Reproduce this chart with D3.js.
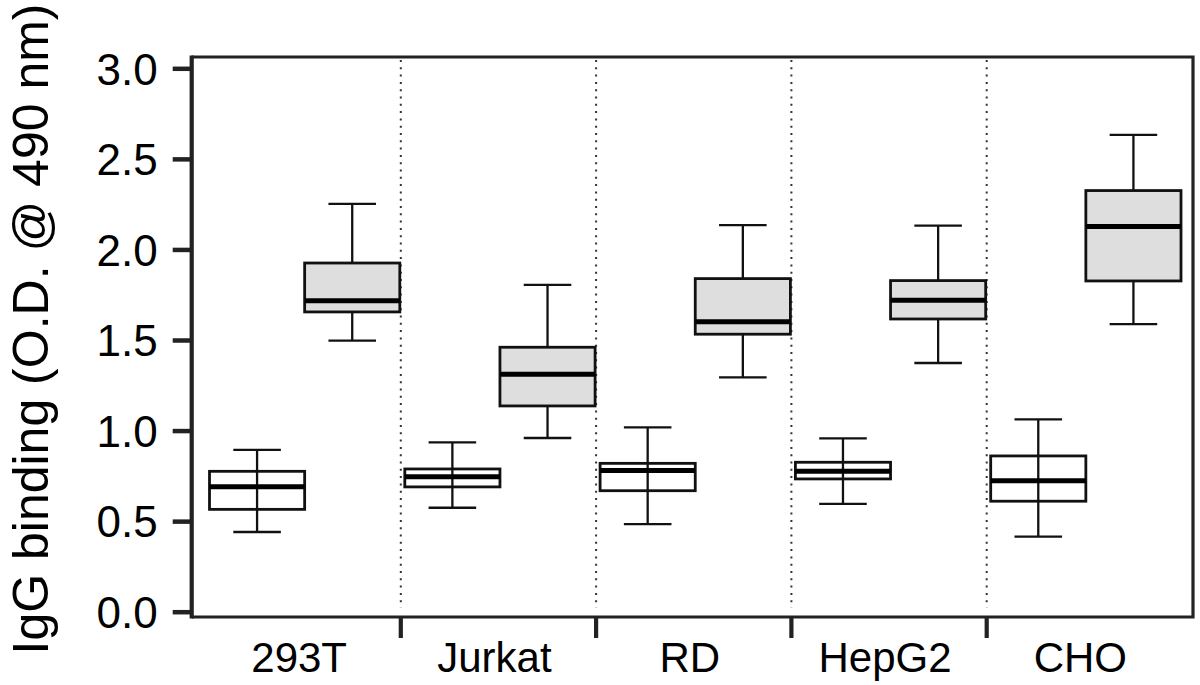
<!DOCTYPE html>
<html>
<head>
<meta charset="utf-8">
<script src="https://cdn.jsdelivr.net/npm/d3@7"></script>
<style>
  html, body { margin: 0; padding: 0; background: #fff; }
  svg { display: block; }
  text { font-family: "Liberation Sans", Arial, Helvetica, sans-serif; fill: #000; }
</style>
</head>
<body>
<svg id="chart" width="1200" height="685"></svg>
<script>
// ---- data ----
const categories = ["293T", "Jurkat", "RD", "HepG2", "CHO"];
const seriesNames = ["open", "filled"];
const yTicks = [0.0, 0.5, 1.0, 1.5, 2.0, 2.5, 3.0];
const yTitle = "IgG binding (O.D. @ 490 nm)";

// open (white) boxes
const openLow  = [0.440, 0.574, 0.484, 0.595, 0.414];
const openQ1   = [0.565, 0.689, 0.668, 0.733, 0.610];
const openMed  = [0.690, 0.745, 0.780, 0.775, 0.723];
const openQ3   = [0.775, 0.788, 0.819, 0.825, 0.860];
const openHigh = [0.893, 0.935, 1.018, 0.957, 1.062];

// filled (grey) boxes
const fillLow  = [1.496, 0.959, 1.294, 1.373, 1.588];
const fillQ1   = [1.655, 1.136, 1.532, 1.616, 1.826];
const fillMed  = [1.717, 1.311, 1.601, 1.719, 2.126];
const fillQ3   = [1.925, 1.460, 1.839, 1.828, 2.325];
const fillHigh = [2.251, 1.804, 2.134, 2.131, 2.632];

// ---- build table ----
const boxes = [];
categories.forEach((c, i) => {
  boxes.push({cat: c, s: "open",   low: openLow[i], q1: openQ1[i], med: openMed[i], q3: openQ3[i], high: openHigh[i]});
  boxes.push({cat: c, s: "filled", low: fillLow[i], q1: fillQ1[i], med: fillMed[i], q3: fillQ3[i], high: fillHigh[i]});
});

// ---- layout ----
const frame = {left: 191.7, right: 1193, top: 57, bottom: 617};
const axisColor = "#222";

const svg = d3.select("#chart");

const y = d3.scaleLinear().domain([0, 3]).range([611.7, 68.3]);
const x = d3.scaleBand().domain(categories).range([205.5, 1182]).paddingInner(0).paddingOuter(0);
const xs = d3.scaleBand().domain(seriesNames).range([4, x.bandwidth() - 1]).padding(0);

// dotted separators
const seps = categories.slice(1).map(c => x(c));
svg.append("g").selectAll("line").data(seps).join("line")
  .attr("x1", d => d).attr("x2", d => d)
  .attr("y1", frame.top + 3).attr("y2", y(0) - 4)
  .attr("stroke", "#333").attr("stroke-width", 2)
  .attr("stroke-dasharray", "2,5.3");

// frame (top, right, bottom)
svg.append("path")
  .attr("d", `M${frame.left},${frame.top}H${frame.right}V${frame.bottom}H${frame.left}`)
  .attr("fill", "none").attr("stroke", axisColor).attr("stroke-width", 3.2);

// left axis
const yAxis = d3.axisLeft(y).tickValues(yTicks).tickFormat(d3.format(".1f"))
  .tickSize(19).tickSizeOuter(0).tickPadding(15);
const gy = svg.append("g").attr("transform", `translate(${frame.left},0)`).call(yAxis);
gy.select(".domain").remove();
gy.selectAll(".tick line").attr("stroke", axisColor).attr("stroke-width", 4.5);
gy.selectAll(".tick text").style("font-size", "44px").attr("dy", "0.36em");
svg.append("line").attr("x1", frame.left).attr("x2", frame.left)
  .attr("y1", frame.top - 1.6).attr("y2", frame.bottom + 1.6)
  .attr("stroke", axisColor).attr("stroke-width", 4.2);

// bottom separator ticks
svg.append("g").selectAll("line").data(seps).join("line")
  .attr("x1", d => d).attr("x2", d => d)
  .attr("y1", frame.bottom).attr("y2", frame.bottom + 21)
  .attr("stroke", axisColor).attr("stroke-width", 4.2);

// x labels via axis
const xAxis = d3.axisBottom(x).tickSize(0).tickPadding(0);
const gx = svg.append("g").attr("transform", `translate(0,${frame.bottom})`).call(xAxis);
gx.select(".domain").remove();
gx.selectAll(".tick text").style("font-size", "42px").attr("y", 55).attr("dy", 0).attr("dx", -4);

// boxes
const g = svg.append("g");
const bw = xs.bandwidth();
const bx = d => x(d.cat) + xs(d.s);
const cx = d => bx(d) + bw / 2;

const box = g.selectAll("g.box").data(boxes).join("g").attr("class", "box");
// whisker stems
box.append("line")
  .attr("x1", cx).attr("x2", cx)
  .attr("y1", d => y(d.high)).attr("y2", d => y(d.low))
  .attr("stroke", "#111").attr("stroke-width", 2.3);
// caps
["high", "low"].forEach(k => {
  box.append("line")
    .attr("x1", d => cx(d) - bw / 4).attr("x2", d => cx(d) + bw / 4)
    .attr("y1", d => y(d[k])).attr("y2", d => y(d[k]))
    .attr("stroke", "#111").attr("stroke-width", 2.3);
});
// rect
box.append("rect")
  .attr("x", bx).attr("width", bw)
  .attr("y", d => y(d.q3)).attr("height", d => y(d.q1) - y(d.q3))
  .attr("fill", d => d.s === "open" ? "#fff" : "#dedede")
  .attr("stroke", "#111").attr("stroke-width", 2.8);
// stems through open boxes are visible in reference
box.filter(d => d.s === "open").append("line")
  .attr("x1", cx).attr("x2", cx)
  .attr("y1", d => y(d.q3)).attr("y2", d => y(d.q1))
  .attr("stroke", "#111").attr("stroke-width", 2.3);
// median
box.append("line")
  .attr("x1", bx).attr("x2", d => bx(d) + bw)
  .attr("y1", d => y(d.med)).attr("y2", d => y(d.med))
  .attr("stroke", "#000").attr("stroke-width", 5);

// y title
svg.append("text")
  .attr("transform", `translate(48,${329}) rotate(-90)`)
  .attr("text-anchor", "middle")
  .style("font-size", "50px")
  .text(yTitle);
</script>
</body>
</html>
